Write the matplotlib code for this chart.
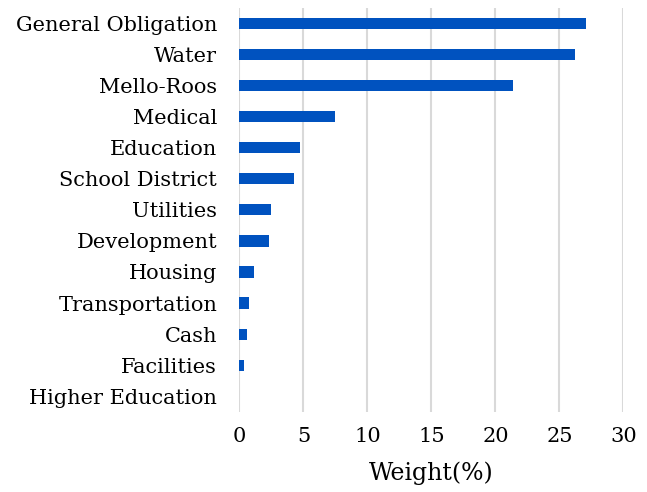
import matplotlib.pyplot as plt

categories = ["General Obligation", "Water", "Mello-Roos", "Medical", "Education",
              "School District", "Utilities", "Development", "Housing",
              "Transportation", "Cash", "Facilities", "Higher Education"]
weights = [27.1, 26.2, 21.4, 7.45, 4.7, 4.25, 2.5, 2.3, 1.15, 0.77, 0.58, 0.33, 0.0]
x_ticks = [0, 5, 10, 15, 20, 25, 30]

plt.rcParams["font.family"] = ["DejaVu Serif"]

fig = plt.figure(figsize=(6.47, 4.92), dpi=100)
ax = fig.add_axes([0.370, 0.163, 0.5935, 0.821])

y = list(range(len(categories)))
ax.barh(y, weights, height=0.36, color="#0052bf", zorder=3)
ax.set_ylim(len(categories) - 0.5, -0.5)
ax.set_xlim(0, 30)
ax.set_yticks(y)
ax.set_yticklabels(categories, fontsize=15)
ax.set_xticks(x_ticks)
ax.set_xticklabels([str(t) for t in x_ticks], fontsize=15)
ax.tick_params(length=0)
ax.tick_params(axis="x", pad=11)
ax.tick_params(axis="y", pad=16)
ax.xaxis.grid(True, color="#d9d9d9", lw=1.5, zorder=0)
for s in ax.spines.values():
    s.set_visible(False)
ax.set_xlabel("Weight(%)", fontsize=17, labelpad=11)

fig.savefig("out.png", dpi=100)
